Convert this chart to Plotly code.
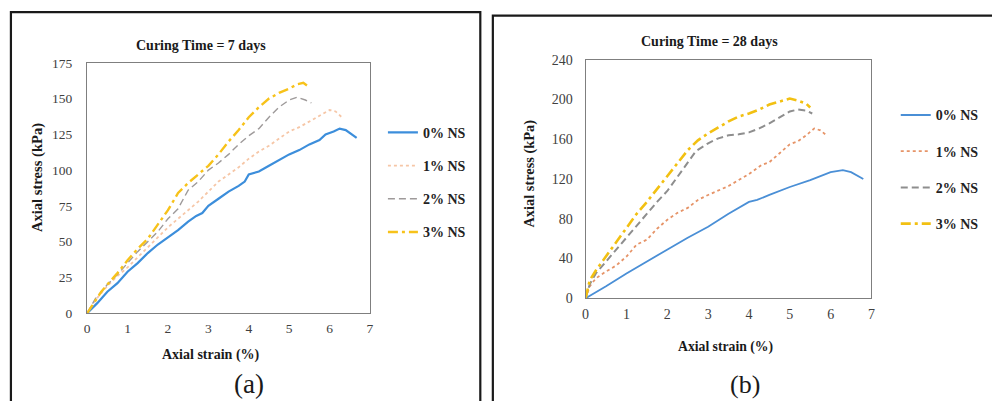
import plotly.graph_objects as go

W, H = 992, 401

# ---------------- Data: panel (a) Curing time = 7 days ----------------
a0_x = [0, 0.25, 0.5, 0.75, 1.0, 1.25, 1.5, 1.75, 2.0, 2.25, 2.5, 2.7, 2.85, 3.0, 3.25, 3.5, 3.75, 3.9, 4.0, 4.25, 4.5, 4.75, 5.0, 5.25, 5.5, 5.75, 5.9, 6.1, 6.25, 6.4, 6.55, 6.67]
a0_y = [0, 7, 15, 21, 29, 35, 42, 48, 53, 58, 64, 68, 70, 75, 80, 85, 89, 92, 97, 99, 103, 107, 111, 114, 118, 121, 125, 127, 129, 128, 125, 122.5]

a1_x = [0, 0.2, 0.5, 0.75, 1, 1.25, 1.5, 1.75, 2, 2.25, 2.5, 2.75, 3, 3.25, 3.5, 3.75, 4, 4.25, 4.5, 4.75, 5, 5.25, 5.5, 5.75, 6.0, 6.15, 6.3]
a1_y = [0, 9, 19, 26, 32, 39, 46, 53, 60, 66, 72, 78, 85, 92, 97, 102, 108, 113, 117, 122, 127, 130, 134, 138, 142, 141, 137]

a2_x = [0, 0.2, 0.5, 0.75, 1, 1.25, 1.5, 1.75, 2, 2.25, 2.5, 2.75, 3, 3.25, 3.5, 3.75, 4, 4.25, 4.5, 4.75, 5, 5.2, 5.4, 5.55]
a2_y = [0, 10, 20, 27, 35, 43, 50, 57, 66, 73, 86, 92, 100, 105, 111, 118, 124, 129, 137, 144, 149, 151, 149, 147]

a3_x = [0, 0.2, 0.35, 0.5, 0.75, 1, 1.25, 1.5, 1.75, 2, 2.25, 2.5, 2.75, 3, 3.25, 3.5, 3.75, 4, 4.25, 4.5, 4.75, 5, 5.2, 5.35, 5.45]
a3_y = [0, 9, 15, 20, 28, 37, 45, 52, 62, 72, 84, 91, 97, 103, 111, 120, 128, 137, 144, 150, 154, 157, 160, 161, 159]

# ---------------- Data: panel (b) Curing time = 28 days ----------------
b0_x = [0, 0.5, 1, 1.5, 2, 2.5, 3, 3.5, 4, 4.2, 4.5, 5, 5.5, 5.8, 6.0, 6.3, 6.5, 6.8]
b0_y = [0, 12, 25, 37, 49, 61, 72, 85, 97, 99, 104, 112, 119, 124, 127, 129, 127, 120]

b1_x = [0, 0.1, 0.25, 0.5, 0.75, 1, 1.25, 1.5, 1.75, 2, 2.25, 2.5, 2.75, 3, 3.5, 4, 4.3, 4.5, 4.75, 5, 5.2, 5.4, 5.6, 5.75, 5.9]
b1_y = [0, 12, 20, 27, 33, 42, 54, 59, 70, 79, 86, 91, 99, 104, 113, 125, 134, 137, 146, 155, 158, 164, 171, 169, 164]

b2_x = [0, 0.1, 0.25, 0.5, 0.75, 1, 1.25, 1.5, 1.75, 2, 2.25, 2.5, 2.7, 3, 3.25, 3.5, 3.75, 4, 4.25, 4.5, 4.75, 5, 5.2, 5.4, 5.55]
b2_y = [0, 14, 25, 37, 50, 62, 73, 85, 97, 108, 122, 137, 148, 156, 161, 164, 165, 167, 171, 176, 182, 188, 190, 189, 186]

b3_x = [0, 0.1, 0.25, 0.5, 0.75, 1, 1.25, 1.5, 1.75, 2, 2.25, 2.5, 2.75, 3, 3.25, 3.5, 3.75, 4, 4.25, 4.5, 4.75, 5, 5.2, 5.4, 5.5]
b3_y = [0, 18, 28, 42, 56, 70, 85, 97, 110, 122, 136, 149, 159, 166, 172, 178, 183, 186, 190, 195, 198, 201, 199, 196, 192]

series_names = ["0% NS", "1% NS", "2% NS", "3% NS"]
x_ticks = [0, 1, 2, 3, 4, 5, 6, 7]
ya_ticks = [0, 25, 50, 75, 100, 125, 150, 175]
yb_ticks = [0, 40, 80, 120, 160, 200, 240]

SERIF = "Liberation Serif, Times New Roman, serif"

# target pixel -> layout pixel (compensates the capture's slight scaling)
def X(t):
    return (t - 3.1) / 0.989

def Y(t):
    return (t - 5.8) / 0.969

def px(t):
    return X(t) / W

def py(t):
    return 1 - Y(t) / H

styles_a = [
    dict(color="#3C8EDB", width=2.2, dash="solid"),
    dict(color="#F6C6A6", width=1.8, dash="dot"),
    dict(color="#9E9A9A", width=1.4, dash="7px,4px"),
    dict(color="#F7C21A", width=2.4, dash="10px,4px,3px,4px"),
]
styles_b = [
    dict(color="#4A8FD6", width=1.8, dash="solid"),
    dict(color="#E69468", width=1.8, dash="dot"),
    dict(color="#8E8E8E", width=2.0, dash="7px,4px"),
    dict(color="#F2C012", width=2.6, dash="10px,4px,3px,4px"),
]

fig = go.Figure()

data_a = [(a0_x, a0_y), (a1_x, a1_y), (a2_x, a2_y), (a3_x, a3_y)]
data_b = [(b0_x, b0_y), (b1_x, b1_y), (b2_x, b2_y), (b3_x, b3_y)]

for i, ((xs, ys), st) in enumerate(zip(data_a, styles_a)):
    fig.add_trace(go.Scatter(x=xs, y=ys, mode="lines", name="<b>" + series_names[i] + "</b>",
                             line=st, xaxis="x", yaxis="y", legend="legend",
                             legendgroup="a%d" % i))
for i, ((xs, ys), st) in enumerate(zip(data_b, styles_b)):
    fig.add_trace(go.Scatter(x=xs, y=ys, mode="lines", name="<b>" + series_names[i] + "</b>",
                             line=st, xaxis="x2", yaxis="y2", legend="legend2",
                             legendgroup="b%d" % i))

axis_common = dict(showgrid=False, zeroline=False, showline=True, mirror=True,
                   linecolor="#7F7F7F", linewidth=1.2, ticks="outside",
                   tickcolor="rgba(0,0,0,0)")

fig.update_layout(
    width=W, height=H,
    margin=dict(l=0, r=0, t=0, b=0),
    paper_bgcolor="white", plot_bgcolor="white",
    xaxis=dict(domain=[px(86), px(368)], range=[0, 7], tickvals=x_ticks, anchor="y", ticklen=3,
               tickfont=dict(family=SERIF, size=13.5, color="#404040"), **axis_common),
    yaxis=dict(domain=[py(314), py(62)], range=[0, 175], tickvals=ya_ticks, anchor="x", ticklen=11,
               tickfont=dict(family=SERIF, size=13.5, color="#404040"), **axis_common),
    xaxis2=dict(domain=[px(583), px(868)], range=[0, 7], tickvals=x_ticks, anchor="y2", ticklen=3,
                tickfont=dict(family=SERIF, size=14, color="#404040"), **axis_common),
    yaxis2=dict(domain=[py(299), py(59)], range=[0, 240], tickvals=yb_ticks, anchor="x2", ticklen=9,
                tickfont=dict(family=SERIF, size=14, color="#404040"), **axis_common),
    legend=dict(x=382 / W, y=1 - 114 / H, xanchor="left", yanchor="top",
                font=dict(family=SERIF, size=14, color="#222222"),
                itemwidth=30, tracegroupgap=12, bgcolor="rgba(0,0,0,0)"),
    legend2=dict(x=899 / W, y=1 - 96 / H, xanchor="left", yanchor="top",
                 font=dict(family=SERIF, size=14, color="#222222"),
                 itemwidth=30, tracegroupgap=15, bgcolor="rgba(0,0,0,0)"),
    showlegend=True,
)

ann = [
    ("<b>Curing Time = 7 days</b>", 200, 45, 14, 0),
    ("<b>Axial stress (kPa)</b>", 36, 177, 14.6, -90),
    ("<b>Axial strain (%)</b>", 209, 356, 14, 0),
    ("(a)", 247, 385, 27, 0),
    ("<b>Curing Time = 28 days</b>", 707, 41, 14, 0),
    ("<b>Axial stress (kPa)</b>", 527, 173, 14.4, -90),
    ("<b>Axial strain (%)</b>", 722, 348, 13.7, 0),
    ("(b)", 742, 386, 26, 0),
]
for text, x, y, size, ang in ann:
    fig.add_annotation(text=text, xref="paper", yref="paper", x=px(x), y=py(y),
                       xanchor="center", yanchor="middle", showarrow=False, textangle=ang,
                       font=dict(family=SERIF, size=size, color="#1a1a1a"))

# panel frames
fig.add_shape(type="rect", xref="paper", yref="paper", x0=px(10), x1=px(478), y0=py(430), y1=py(11),
              line=dict(color="#1a1a1a", width=2.2))
fig.add_shape(type="rect", xref="paper", yref="paper", x0=px(490.5), x1=px(1020), y0=py(430), y1=py(14.5),
              line=dict(color="#1a1a1a", width=2.2))

fig.write_html("out.html", config={"displayModeBar": False},
               post_script="document.body.style.margin='0';document.body.style.overflow='hidden';")
